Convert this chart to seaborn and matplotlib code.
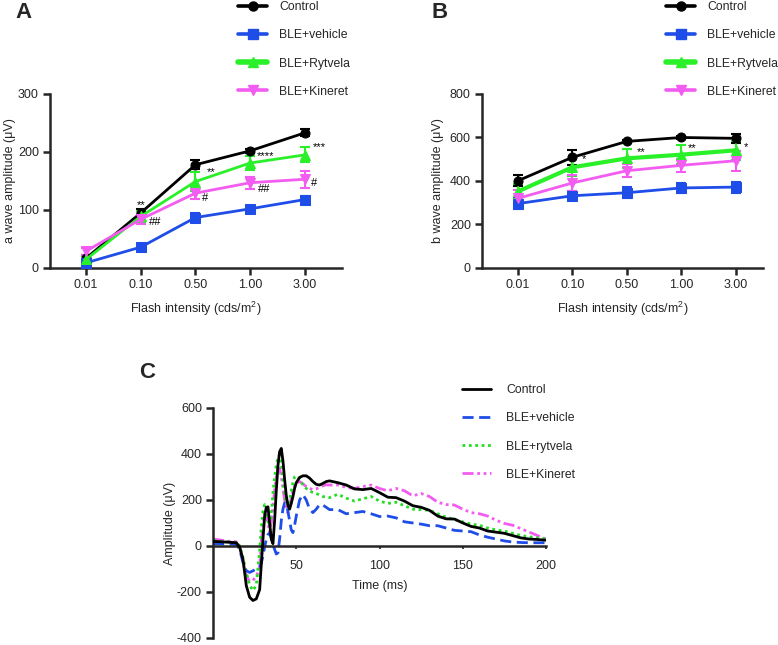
import numpy as np
import pandas as pd
import matplotlib
matplotlib.use("Agg")
import matplotlib.pyplot as plt
from matplotlib.lines import Line2D
import seaborn as sns

sns.set_style("ticks")
plt.rcParams['font.family'] = ['Liberation Sans', 'DejaVu Sans']
plt.rcParams['mathtext.fontset'] = 'custom'
plt.rcParams['mathtext.rm'] = 'Liberation Sans'
plt.rcParams['axes.unicode_minus'] = False

# ---------------- data ----------------
intensity = ["0.01", "0.10", "0.50", "1.00", "3.00"]
groups = ["Control", "BLE+vehicle", "BLE+Rytvela", "BLE+Kineret"]

a_control = [17, 95, 178, 202, 233]
a_vehicle = [9, 36, 87, 102, 118]
a_rytvela = [15, 89, 149, 181, 195]
a_kineret = [29, 84, 129, 147, 153]
a_control_err = [5, 6, 8, 4, 6]
a_vehicle_err = [4, 5, 7, 5, 6]
a_rytvela_err = [6, 10, 16, 12, 13]
a_kineret_err = [6, 9, 10, 10, 15]

b_control = [401, 509, 582, 600, 596]
b_vehicle = [296, 332, 346, 368, 372]
b_rytvela = [352, 463, 504, 521, 541]
b_kineret = [320, 391, 447, 472, 493]
b_control_err = [25, 35, 8, 8, 22]
b_vehicle_err = [25, 20, 25, 25, 25]
b_rytvela_err = [35, 40, 45, 45, 45]
b_kineret_err = [40, 35, 30, 30, 45]

# significance marks: (group, category index, text)
a_marks = [("Control", 1, "**"), ("BLE+Kineret", 1, "##"),
           ("BLE+Rytvela", 2, "**"), ("BLE+Kineret", 2, "#"),
           ("BLE+Rytvela", 3, "****"), ("BLE+Kineret", 3, "##"),
           ("BLE+Rytvela", 4, "***"), ("BLE+Kineret", 4, "#")]
b_marks = [("BLE+Rytvela", 1, "*"), ("BLE+Rytvela", 2, "**"),
           ("BLE+Rytvela", 3, "**"), ("BLE+Rytvela", 4, "*")]

c_labels = ["Control", "BLE+vehicle", "BLE+rytvela", "BLE+Kineret"]
time_ms = [0, 5, 10, 14, 16, 18, 20, 22, 24, 26,
           28, 29, 30, 31, 32, 33, 34, 35, 36, 37, 38, 39, 40, 41, 42, 43, 44, 45, 46, 47, 48, 49, 50,
           52, 54, 56, 58, 60, 62, 64, 66, 68, 70,
           75, 80, 85, 90, 95, 100, 105, 110, 115, 120, 125, 130, 135, 140, 145, 150, 155, 160,
           165, 170, 175, 180, 185, 190, 195, 200]
c_control = [20, 18, 16, 14, -5, -58, -173, -223, -237, -230,
             -190, -80, 29, 130, 168, 170, 100, 30, 10, 110, 240, 350, 410, 424, 370, 290, 220, 175, 160, 185, 215, 250, 275,
             298, 305, 305, 295, 280, 268, 265, 272, 280, 283,
             275, 265, 248, 245, 250, 232, 212, 210, 195, 175, 168, 155, 130, 118, 117, 100, 85, 78,
             65, 60, 55, 45, 35, 30, 28, 25]
c_vehicle = [10, 9, 8, 7, -15, -72, -108, -115, -108, -100,
             -94, -75, -43, -5, 29, 50, 55, 35, 5, -15, -35, -30, 30, 110, 160, 187, 180, 150, 110, 70, 58, 90, 130,
             200, 223, 200, 160, 145, 160, 180, 178, 168, 158,
             158, 140, 145, 150, 140, 128, 130, 122, 105, 100, 95, 88, 88, 78, 68, 65, 62, 48,
             38, 30, 22, 17, 15, 14, 14, 14]
c_rytvela = [25, 20, 17, 14, 0, -50, -115, -170, -194, -170,
             -20, 80, 150, 180, 165, 110, 86, 140, 230, 300, 350, 385, 396, 360, 290, 230, 190, 185, 200, 240, 275, 300, 305,
             292, 265, 250, 240, 232, 228, 222, 215, 212, 210,
             225, 208, 195, 205, 215, 195, 185, 190, 175, 160, 158, 155, 140, 125, 115, 105, 95, 90,
             78, 70, 65, 55, 45, 40, 35, 30]
c_kineret = [30, 25, 20, 18, 0, -75, -129, -155, -150, -130,
             -100, 20, 90, 144, 130, 100, 60, 100, 170, 240, 300, 331, 338, 300, 250, 200, 160, 144, 170, 210, 240, 262, 273,
             280, 270, 258, 250, 245, 248, 255, 262, 266, 265,
             265, 255, 250, 258, 265, 250, 240, 250, 240, 218, 228, 215, 190, 180, 178, 160, 145, 140,
             130, 112, 98, 90, 75, 60, 45, 30]

# ---------------- styles ----------------
colors = {"Control": "#000000", "BLE+vehicle": "#1f4de8",
          "BLE+Rytvela": "#2af02a", "BLE+Kineret": "#f35cf0"}
markers = {"Control": "o", "BLE+vehicle": "s", "BLE+Rytvela": "^", "BLE+Kineret": "v"}
msize = {"Control": 6.5, "BLE+vehicle": 6.5, "BLE+Rytvela": 7.5, "BLE+Kineret": 7.5}

FS = 9
LFS = 8.8

fig = plt.figure(figsize=(7.78, 6.45), dpi=100)
axA = fig.add_axes([0.0643, 0.5845, 0.3753, 0.2698])
axB = fig.add_axes([0.6195, 0.5845, 0.3612, 0.2698])
axC = fig.add_axes([0.2738, 0.0109, 0.4280, 0.3566])


def panel(ax, means, errs, lws, marks, mark_offsets, ylim, yticks, ylabel, xlim, ylpad):
    x = np.arange(len(intensity))
    rows = []
    for g in groups:
        for i, cat in enumerate(intensity):
            rows.append({"group": g, "idx": i, "val": means[g][i]})
    df = pd.DataFrame(rows)
    for g in groups:
        sub = df[df.group == g]
        ax.errorbar(sub["idx"], sub["val"], yerr=errs[g], fmt="none",
                    ecolor=colors[g], elinewidth=1.5, capsize=3.8, capthick=1.5, zorder=2)
        sns.lineplot(data=sub, x="idx", y="val", ax=ax, color=colors[g],
                     marker=markers[g], markersize=msize[g], markeredgecolor=colors[g],
                     linewidth=lws[g], zorder=3, legend=False)
    for (g, i, t), (dx, dy) in zip(marks, mark_offsets):
        ax.text(i + dx, means[g][i] + dy, t, fontsize=8, ha="center", va="center", color="black")
    ax.set_xlim(*xlim)
    ax.set_ylim(*ylim)
    ax.set_yticks(yticks)
    ax.set_xticks(x)
    ax.set_xticklabels(intensity)
    ax.set_xlabel("Flash intensity (cds/m$^{2}$)", fontsize=FS, labelpad=6)
    ax.set_ylabel(ylabel, fontsize=FS, labelpad=ylpad)
    for s in ["top", "right"]:
        ax.spines[s].set_visible(False)
    for s in ["left", "bottom"]:
        ax.spines[s].set_linewidth(1.8)
    ax.tick_params(axis="both", labelsize=FS, width=1.8, length=5, direction="out", pad=3)


meansA = dict(zip(groups, [a_control, a_vehicle, a_rytvela, a_kineret]))
errsA = dict(zip(groups, [a_control_err, a_vehicle_err, a_rytvela_err, a_kineret_err]))
meansB = dict(zip(groups, [b_control, b_vehicle, b_rytvela, b_kineret]))
errsB = dict(zip(groups, [b_control_err, b_vehicle_err, b_rytvela_err, b_kineret_err]))

panel(axA, meansA, errsA,
      {"Control": 2.0, "BLE+vehicle": 2.0, "BLE+Rytvela": 2.0, "BLE+Kineret": 2.0},
      a_marks,
      [(0, 13), (0.26, -5), (0.28, 17), (0.17, -8), (0.29, 12), (0.25, -11), (0.26, 14), (0.17, -7)],
      (0, 300), [0, 100, 200, 300], "a wave amplitude (\u03bcV)", (-0.66, 4.68), 1.5)
panel(axB, meansB, errsB,
      {"Control": 2.0, "BLE+vehicle": 2.0, "BLE+Rytvela": 3.0, "BLE+Kineret": 2.0},
      b_marks,
      [(0.22, 38), (0.26, 29), (0.2, 31), (0.18, 15)],
      (0, 800), [0, 200, 400, 600, 800], "b wave amplitude (\u03bcV)", (-0.66, 4.5), 4)

# legends for A and B
for ax, xfig in [(axA, 238 / 778), (axB, 666 / 778)]:
    handles = []
    for g in groups:
        handles.append(Line2D([0], [0], color=colors[g], marker=markers[g], markersize=msize[g],
                              linewidth=4.0 if g == "BLE+Rytvela" else 2.6))
    ax.legend(handles, groups, loc="upper left", bbox_to_anchor=(xfig, 1 - 1 / 645),
              bbox_transform=fig.transFigure, frameon=False, fontsize=LFS,
              handlelength=2.4, handletextpad=0.95, labelspacing=1.33,
              borderpad=0, borderaxespad=0)

# ---------------- panel C ----------------
c_series = dict(zip(c_labels, [c_control, c_vehicle, c_rytvela, c_kineret]))
c_colors = ["#000000", "#1f4de8", "#22dd22", "#f35cf0"]
c_styles = ["-", (0, (4, 2)), (0, (1, 1.3)), (0, (4, 1.3, 1, 1.3, 1, 1.3))]
rowsC = []
for lab in c_labels:
    for t, v in zip(time_ms, c_series[lab]):
        rowsC.append({"series": lab, "t": t, "amp": v})
dfC = pd.DataFrame(rowsC)
order_draw = ["BLE+Kineret", "BLE+rytvela", "BLE+vehicle", "Control"]
for lab in order_draw:
    k = c_labels.index(lab)
    sub = dfC[dfC.series == lab]
    sns.lineplot(data=sub, x="t", y="amp", ax=axC, color=c_colors[k],
                 linestyle=c_styles[k], linewidth=2.0, legend=False, zorder=3 if lab == "Control" else 2)
axC.set_xlim(0, 200)
axC.set_ylim(-400, 600)
axC.set_yticks([-400, -200, 0, 200, 400, 600])
axC.set_xticks([50, 100, 150, 200])
axC.spines["bottom"].set_position(("data", 0))
for s in ["top", "right"]:
    axC.spines[s].set_visible(False)
for s in ["left", "bottom"]:
    axC.spines[s].set_linewidth(1.8)
axC.tick_params(axis="y", labelsize=FS, width=1.8, length=5, pad=3)
axC.tick_params(axis="x", labelsize=FS, width=1.2, length=2, pad=8)
axC.set_xlabel("")
axC.set_ylabel("Amplitude (\u03bcV)", fontsize=FS, labelpad=1)
fig.text(380 / 778, 1 - 586 / 645, "Time (ms)", fontsize=FS, ha="center", va="center")

c_handles = [Line2D([0], [0], color=c_colors[k], linestyle=c_styles[k], linewidth=2.0)
             for k in range(len(c_labels))]
axC.legend(c_handles, c_labels, loc="upper left", bbox_to_anchor=(462 / 778, 1 - 384 / 645),
           bbox_transform=fig.transFigure, frameon=False, fontsize=LFS,
           handlelength=2.4, handletextpad=1.2, labelspacing=1.33, borderpad=0, borderaxespad=0)

# panel letters
fig.text(23 / 778, 1 - 13 / 645, "A", fontsize=16, fontweight="bold", ha="center", va="center")
fig.text(440 / 778, 1 - 13 / 645, "B", fontsize=16, fontweight="bold", ha="center", va="center")
fig.text(147 / 778, 1 - 373 / 645, "C", fontsize=16, fontweight="bold", ha="center", va="center")

fig.savefig("out.png", dpi=100)
